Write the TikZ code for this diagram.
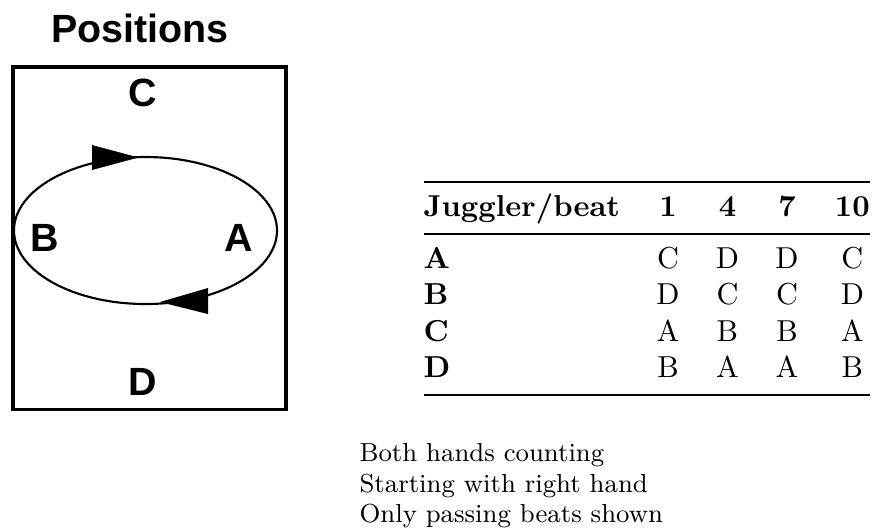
\documentclass[tikz,border=0pt]{standalone}
\usepackage{fontspec}
\usepackage{booktabs}
\usetikzlibrary{positioning}
\newfontfamily\posfont{Liberation Sans}

\tikzset{
  poslabel/.style={font=\posfont\bfseries\fontsize{13}{15}\selectfont, inner sep=0pt},
  notetext/.style={font=\fontsize{8.6}{10}\selectfont, inner sep=0pt, anchor=base west}
}

\begin{document}
\begin{tikzpicture}[x=0.33pt, y=-0.33pt]
  \useasboundingbox (0,0) rectangle (875,531);
  % positions sketch
  \node[poslabel] (title) at (140,28.5) {Positions};
  \draw[line width=1pt] (13,67) rectangle (286,409);
  \draw[line width=0.7pt] (145.5,230.5) ellipse [x radius=131.5, y radius=73.5];
  \fill (92,145) -- (138.5,157.5) -- (92,170) -- cycle;
  \fill (208,288) -- (160,302) -- (208,314) -- cycle;
  \node[poslabel] (posC) at (143,93) {C};
  \node[poslabel] (posB) at (45,238) {B};
  \node[poslabel] (posA) at (239,238) {A};
  \node[poslabel] (posD) at (143,382) {D};
  % passing table
  \node[anchor=north west, inner sep=0pt] (passes) at (423,180) {%
    \begin{tabular}{@{}lcccc@{}}
      \toprule
      \textbf{Juggler/beat} & \textbf{1} & \textbf{4} & \textbf{7} & \textbf{10} \\
      \midrule
      \textbf{A} & C & D & D & C \\
      \textbf{B} & D & C & C & D \\
      \textbf{C} & A & B & B & A \\
      \textbf{D} & B & A & A & B \\
      \bottomrule
    \end{tabular}};
  % notes
  \node[notetext] (note1) at (359,461) {Both hands counting};
  \node[notetext] (note2) at (359,492) {Starting with right hand};
  \node[notetext] (note3) at (359,522) {Only passing beats shown};
\end{tikzpicture}
\end{document}
